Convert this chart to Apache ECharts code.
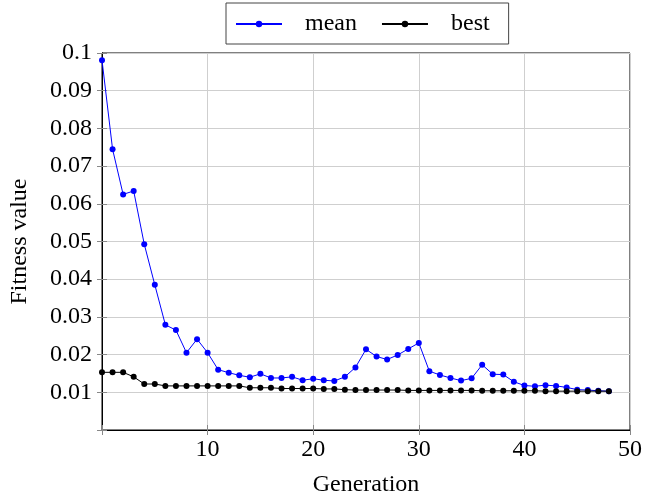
<!DOCTYPE html>
<html>
<head>
<meta charset="utf-8">
<script src="https://cdn.jsdelivr.net/npm/echarts@6/dist/echarts.min.js"></script>
<style>
  html, body { margin: 0; padding: 0; background: #fff; }
  #content { width: 645px; height: 502px; }
</style>
</head>
<body>
<div id="content"></div>
<script>
// generation index 0..48
const generations = Array.from({length: 49}, (_, i) => i)

// mean fitness per generation
const meanData = [
  0.0981, 0.0745, 0.0625, 0.0634, 0.0493, 0.0385, 0.0279, 0.0265, 0.0205, 0.0241,
  0.0205, 0.0160, 0.0152, 0.0145, 0.0140, 0.0149, 0.0138, 0.0138, 0.0141, 0.0132,
  0.0136, 0.0132, 0.0130, 0.0141, 0.0166, 0.0214, 0.0195, 0.0187, 0.0199, 0.0215,
  0.0231, 0.0156, 0.0146, 0.0138, 0.0131, 0.0137, 0.0173, 0.0148, 0.0147, 0.0128,
  0.0118, 0.0116, 0.0119, 0.0117, 0.0113, 0.0107, 0.0106, 0.0104, 0.0103
]

// best fitness per generation
const bestData = [
  0.0153, 0.0153, 0.0153, 0.0141, 0.0122, 0.0122, 0.0117, 0.0117, 0.0117, 0.0117,
  0.0117, 0.0117, 0.0117, 0.0117, 0.0112, 0.0112, 0.0112, 0.0110, 0.0110, 0.0110,
  0.0110, 0.0109, 0.0109, 0.0107, 0.0106, 0.0106, 0.0106, 0.0106, 0.0106, 0.0105,
  0.0105, 0.0105, 0.0105, 0.0105, 0.0105, 0.0105, 0.0104, 0.0104, 0.0104, 0.0104,
  0.0104, 0.0104, 0.0103, 0.0103, 0.0103, 0.0103, 0.0103, 0.0103, 0.0103
]

const font = 'Liberation Serif'
const fontSize = 24

// inward ticks, used on all four sides
const tick = {show: true, inside: true, length: 5, lineStyle: {color: '#888'}}
const grid = {show: true, lineStyle: {color: '#cfcfcf', width: 1}}

const myChart = echarts.init(document.querySelector('#content'))
myChart.setOption({
  animation: false,
  textStyle: {fontFamily: font},
  legend: {
    top: 3,
    left: 226,
    itemGap: 24,
    itemWidth: 46,
    itemHeight: 8,
    padding: [9, 19, 8, 9],
    borderColor: '#444',
    borderWidth: 1,
    borderRadius: 0,
    textStyle: {fontFamily: font, fontSize: fontSize, color: '#000', padding: [0, 0, 0, 18]},
    data: ['mean', 'best']
  },
  grid: {
    left: 102,
    right: 14,
    top: 53,
    bottom: 71,
    show: true,
    borderColor: '#000',
    borderWidth: 1
  },
  xAxis: [
    {
      type: 'value',
      min: 0,
      max: 50,
      interval: 10,
      name: 'Generation',
      nameLocation: 'middle',
      nameGap: 43,
      nameTextStyle: {fontFamily: font, fontSize: fontSize, color: '#000'},
      axisLine: {show: true, lineStyle: {color: '#000'}},
      axisTick: tick,
      axisLabel: {
        color: '#000', fontSize: fontSize, fontFamily: font, margin: 8,
        formatter: v => v === 0 ? '' : String(v)
      },
      splitLine: grid
    },
    {
      type: 'value',
      position: 'top',
      min: 0,
      max: 50,
      interval: 10,
      axisLine: {show: true, lineStyle: {color: '#000'}},
      axisTick: tick,
      axisLabel: {show: false},
      splitLine: {show: false}
    }
  ],
  yAxis: [
    {
      type: 'value',
      min: 0,
      max: 0.1,
      interval: 0.01,
      name: 'Fitness value',
      nameLocation: 'middle',
      nameGap: 70,
      nameTextStyle: {fontFamily: font, fontSize: fontSize, color: '#000'},
      axisLine: {show: true, lineStyle: {color: '#000'}},
      axisTick: tick,
      axisLabel: {
        color: '#000', fontSize: fontSize, fontFamily: font, margin: 10,
        formatter: v => v === 0 ? '' : String(+v.toFixed(2))
      },
      splitLine: grid
    },
    {
      type: 'value',
      position: 'right',
      min: 0,
      max: 0.1,
      interval: 0.01,
      axisLine: {show: true, lineStyle: {color: '#000'}},
      axisTick: tick,
      axisLabel: {show: false},
      splitLine: {show: false}
    }
  ],
  series: [
    {
      name: 'mean',
      type: 'line',
      data: generations.map((g, i) => [g, meanData[i]]),
      symbol: 'circle',
      symbolSize: 6,
      itemStyle: {color: '#0000ff'},
      lineStyle: {color: '#0000ff', width: 1}
    },
    {
      name: 'best',
      type: 'line',
      data: generations.map((g, i) => [g, bestData[i]]),
      symbol: 'circle',
      symbolSize: 6,
      itemStyle: {color: '#000'},
      lineStyle: {color: '#000', width: 1}
    }
  ]
})
</script>
</body>
</html>
